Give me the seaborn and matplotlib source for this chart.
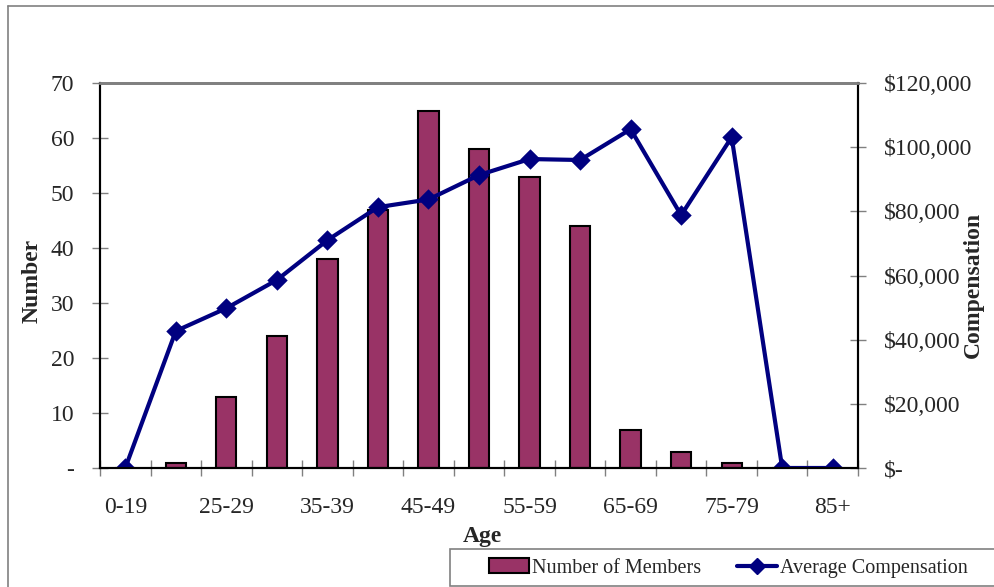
import numpy as np
import pandas as pd
import matplotlib
matplotlib.use("Agg")
import matplotlib.pyplot as plt
from matplotlib.lines import Line2D
from matplotlib.patches import Rectangle, Patch
from matplotlib.ticker import FixedLocator, FuncFormatter
import seaborn as sns

# Age bands, member counts and average pay per band
age_bands = ["0-19", "20-24", "25-29", "30-34", "35-39", "40-44", "45-49",
             "50-54", "55-59", "60-64", "65-69", "70-74", "75-79", "80-84", "85+"]
members = [0, 1, 13, 24, 38, 47, 65, 58, 53, 44, 7, 3, 1, 0, 0]
avg_comp = [0, 42700, 49800, 58600, 71000, 81300, 83700, 91300, 96300,
            96000, 105600, 78800, 103100, 0, 0]
shown_labels = ["0-19", "25-29", "35-39", "45-49", "55-59", "65-69", "75-79", "85+"]

df = pd.DataFrame({"Age": age_bands, "Members": members, "Comp": avg_comp})

sns.set_style("white")
plt.rcParams["font.family"] = ["Liberation Serif", "DejaVu Serif"]

BAR = "#993366"
NAVY = "#000080"
GRAY = "#808080"
W, H = 994, 587
FS = 17

fig = plt.figure(figsize=(W / 100, H / 100), dpi=100)
ax = fig.add_axes([100 / W, (H - 468) / H, 758 / W, 385 / H])

sns.barplot(data=df, x="Age", y="Members", order=age_bands, color=BAR,
            saturation=1, edgecolor="black", linewidth=1.5, width=0.4, ax=ax)

ax2 = ax.twinx()
sns.pointplot(data=df, x="Age", y="Comp", order=age_bands, color=NAVY,
              markers="D", markersize=8, linewidth=3, ax=ax2)

n = len(age_bands)
for a in (ax, ax2):
    a.set_xlim(-0.5, n - 0.5)
    a.grid(False)

ax.set_ylim(0, 70)
ax2.set_ylim(0, 120000)

# x axis: labels on every other band, tick marks on band boundaries
pos = {b: i for i, b in enumerate(age_bands)}
ax.xaxis.set_major_locator(FixedLocator([pos[b] for b in shown_labels]))
ax.set_xticklabels(shown_labels)
ax.xaxis.set_minor_locator(FixedLocator(np.arange(-0.5, n, 1.0)))
ax.tick_params(axis="x", which="major", length=0, pad=21, labelsize=FS)
ax.tick_params(axis="x", which="minor", direction="inout", length=11,
               color=GRAY, width=1, bottom=True)

ax.set_yticks(np.arange(0, 71, 10))
ax.yaxis.set_major_formatter(FuncFormatter(lambda v, p: "-" if v == 0 else f"{v:.0f}"))
ax.tick_params(axis="y", direction="inout", length=11, color=GRAY, width=1,
               pad=13, labelsize=FS, left=True)

ax2.set_yticks(np.arange(0, 120001, 20000))
ax2.yaxis.set_major_formatter(FuncFormatter(lambda v, p: "$-" if v == 0 else f"${v:,.0f}"))
ax2.tick_params(axis="y", direction="inout", length=11, color=GRAY, width=1,
                pad=13, labelsize=FS, right=True)

for a in (ax, ax2):
    for side in ("left", "bottom", "right"):
        a.spines[side].set_color("black")
        a.spines[side].set_linewidth(1.5)
    a.spines["top"].set_color(GRAY)
    a.spines["top"].set_linewidth(2)

ax.set_xlabel("Age", fontsize=FS, fontweight="bold")
ax.xaxis.set_label_coords(0.505, -0.150)
ax.set_ylabel("Number", fontsize=FS, fontweight="bold")
ax.yaxis.set_label_coords(-0.0752, 0.486)
ax2.set_ylabel("Compensation", fontsize=FS, fontweight="bold")
ax2.yaxis.set_label_coords(1.1385, 0.475)

# outer chart-area border (left and top edges)
fig.add_artist(Line2D([7.5 / W, 7.5 / W], [0, 1 - 6 / H], transform=fig.transFigure,
                      color=GRAY, linewidth=1.2))
fig.add_artist(Line2D([7.5 / W, 1], [1 - 6 / H, 1 - 6 / H], transform=fig.transFigure,
                      color=GRAY, linewidth=1.2))

# legend box
fig.add_artist(Rectangle((450 / W, 1 / H), 600 / W, 37 / H,
                         transform=fig.transFigure, facecolor="white",
                         edgecolor=GRAY, linewidth=1.2))
handles = [Patch(facecolor=BAR, edgecolor="black", linewidth=1.5),
           Line2D([], [], color=NAVY, linewidth=3, marker="D", markersize=8)]
fig.legend(handles, ["Number of Members", "Average Compensation"],
           loc="center left", bbox_to_anchor=(489 / W, 1 - 568 / H),
           ncol=2, frameon=False, fontsize=14.5, handlelength=2.0,
           handletextpad=0.15, columnspacing=1.75, borderpad=0, borderaxespad=0)

fig.savefig("out.png", dpi=100)
